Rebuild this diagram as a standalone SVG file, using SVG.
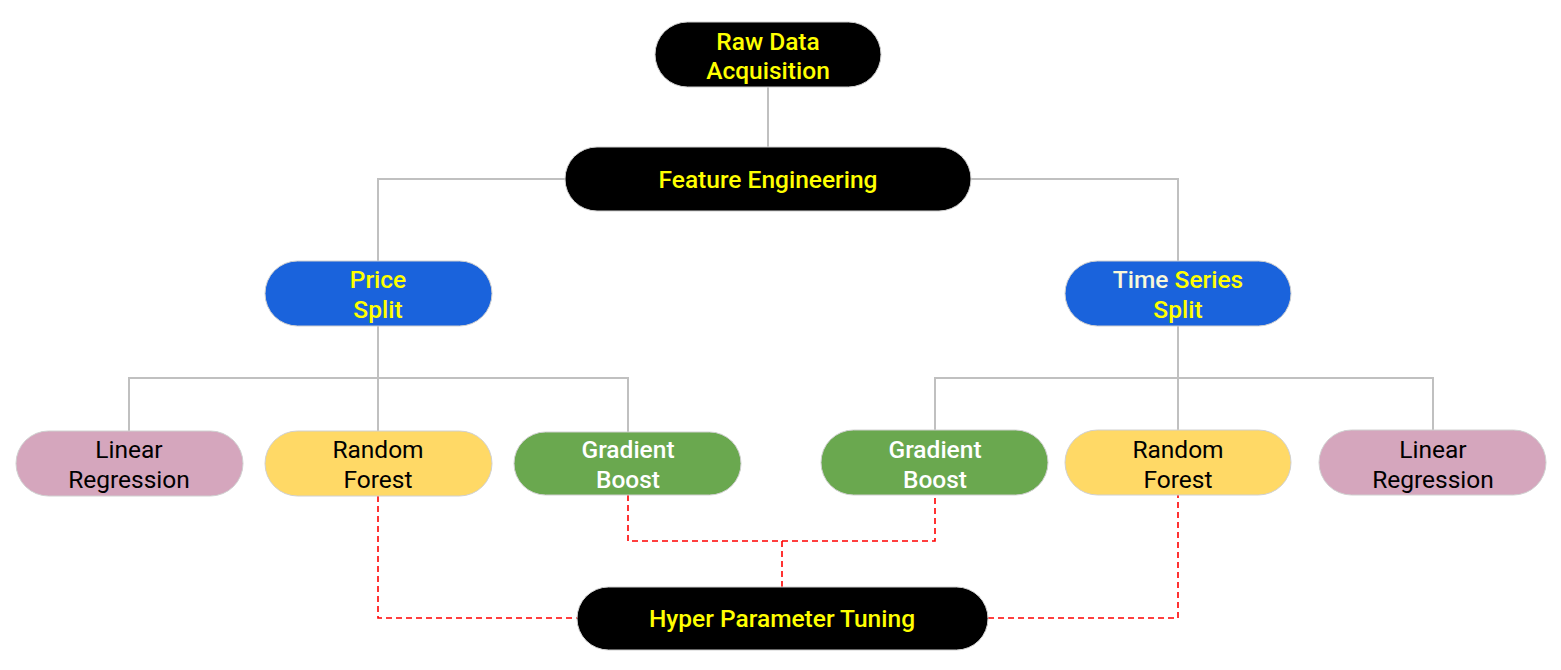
<svg xmlns="http://www.w3.org/2000/svg" width="1561" height="670" viewBox="0 0 1561 670">
<style>
.n{stroke:#d0d0d0;stroke-width:1}
.blk{fill:#000}
.blue{fill:#1a63dc}
.pink{fill:#d5a6bd}
.yel{fill:#ffd966}
.grn{fill:#6aa84f}
text{font-family:Roboto,"Liberation Sans",sans-serif;font-size:24.5px;text-anchor:middle}
.ty{fill:#ffff00;font-weight:500}
.tw{fill:#ffffff;font-weight:500}
.tb{fill:#000000}
.c{fill:none;stroke:#c0c0c0;stroke-width:2}
.d{fill:none;stroke:#ff0000;stroke-width:1.6;stroke-dasharray:6,4}
</style>
<g id="connectors">
<path class="c" d="M768 87V147"/>
<path class="c" d="M565 179H378V261"/>
<path class="c" d="M971 179H1178V261"/>
<path class="c" d="M378 326V431"/>
<path class="c" d="M129 431V378H628V432"/>
<path class="c" d="M1178 326V430"/>
<path class="c" d="M935 430V378H1433V430"/>
<path class="d" d="M378 496V618H577"/>
<path class="d" d="M628 495V541H935V495"/>
<path class="d" d="M782 541V587"/>
<path class="d" d="M988 618H1178V495"/>
</g>
<g id="raw">
<rect class="n blk" x="655" y="22" width="226" height="65" rx="32.5"/>
<text class="ty" x="768" y="50">Raw Data</text>
<text class="ty" x="768" y="79">Acquisition</text>
</g>
<g id="feature">
<rect class="n blk" x="565" y="147" width="406" height="64" rx="32"/>
<text class="ty" x="768" y="188">Feature Engineering</text>
</g>
<g id="price">
<rect class="n blue" x="265" y="261" width="227" height="65" rx="32.5"/>
<text class="ty" x="378" y="288">Price</text>
<text class="ty" x="378" y="318">Split</text>
</g>
<g id="timeseries">
<rect class="n blue" x="1065" y="261" width="226" height="65" rx="32.5"/>
<text class="ty" x="1178" y="288"><tspan fill="#f8f8d8">Time</tspan> Series</text>
<text class="ty" x="1178" y="318">Split</text>
</g>
<g id="lr-left">
<rect class="n pink" x="16" y="431" width="227" height="65" rx="32.5"/>
<text class="tb" x="129" y="458">Linear</text>
<text class="tb" x="129" y="488">Regression</text>
</g>
<g id="rf-left">
<rect class="n yel" x="265" y="431" width="227" height="65" rx="32.5"/>
<text class="tb" x="378" y="458">Random</text>
<text class="tb" x="378" y="488">Forest</text>
</g>
<g id="gb-left">
<rect class="n grn" x="514" y="432" width="227" height="63" rx="31.5"/>
<text class="tw" x="628" y="458">Gradient</text>
<text class="tw" x="628" y="488">Boost</text>
</g>
<g id="gb-right">
<rect class="n grn" x="821" y="430" width="227" height="65" rx="32.5"/>
<text class="tw" x="935" y="458">Gradient</text>
<text class="tw" x="935" y="488">Boost</text>
</g>
<g id="rf-right">
<rect class="n yel" x="1065" y="430" width="226" height="65" rx="32.5"/>
<text class="tb" x="1178" y="458">Random</text>
<text class="tb" x="1178" y="488">Forest</text>
</g>
<g id="lr-right">
<rect class="n pink" x="1319" y="430" width="227" height="65" rx="32.5"/>
<text class="tb" x="1433" y="458">Linear</text>
<text class="tb" x="1433" y="488">Regression</text>
</g>
<g id="hyper">
<rect class="n blk" x="577" y="587" width="411" height="63" rx="31.5"/>
<text class="ty" x="782" y="627">Hyper Parameter Tuning</text>
</g>
</svg>
